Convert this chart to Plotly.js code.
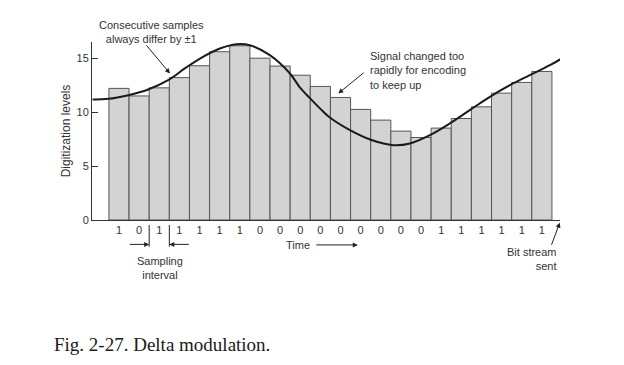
<!DOCTYPE html>
<html>
<head>
<meta charset="utf-8">
<script src="https://cdn.plot.ly/plotly-3.0.1.min.js"></script>
<style>html,body{margin:0;padding:0;background:#fff;}#chart{width:624px;height:365px;}</style>
</head>
<body>
<div id="chart"></div>
<script>
// Sample index (one bar per sampling interval)
var samples = [0,1,2,3,4,5,6,7,8,9,10,11,12,13,14,15,16,17,18,19,20,21];
// Bit stream sent
var bits = ["1","0","1","1","1","1","1","0","0","0","0","0","0","0","0","0","1","1","1","1","1","1"];
// Digitization levels of the encoded staircase
var levels = [12.2,11.5,12.25,13.2,14.3,15.6,16.15,15.0,14.27,13.42,12.38,11.36,10.25,9.26,8.24,7.65,8.52,9.41,10.49,11.76,12.75,13.77];
// Analog signal (traced)
var signalX = [-1.31,-0.53,0.46,1.45,2.44,3.27,4.02,5.01,5.84,6.5,7.49,8.49,8.98,9.48,9.98,10.47,11.47,12.54,13.62,14.45,15.44,16.43,17.42,18.42,19.41,20.4,21.4,21.98];
var signalY = [11.18,11.23,11.57,12.1,12.96,14.05,14.97,15.9,16.3,16.2,15.28,13.58,12.3,11.3,10.35,9.5,8.33,7.41,6.94,7.1,7.87,8.95,10.19,11.42,12.5,13.43,14.35,14.97];
var yTicks = [0,5,10,15];

var FONT = 'Liberation Sans, Arial, sans-serif';
var TXT = '#333333';

var traces = [
  {type:'bar', x:samples, y:levels, width:1,
   marker:{color:'#d3d3d3', line:{color:'#555555', width:1}}, hoverinfo:'skip'},
  {type:'scatter', mode:'lines', x:signalX, y:signalY,
   line:{color:'#1a1a1a', width:2, shape:'spline', smoothing:1}, hoverinfo:'skip'}
];

function arrow(x, y, ax, ay, xref, yref) {
  return {x:x, y:y, xref:xref||'x', yref:yref||'y', text:' ', font:{size:1},
    showarrow:true, arrowhead:2, arrowsize:1, arrowwidth:1, arrowcolor:'#222',
    ax:ax, ay:ay, standoff:0, startstandoff:0};
}
function label(x, y, text, xref, yref, xanchor, align) {
  return {x:x, y:y, xref:xref, yref:yref, xanchor:xanchor||'center', yanchor:'middle',
    text:text, showarrow:false, align:align||'center',
    font:{family:FONT, size:11, color:TXT}};
}

var annotations = [
  label(1.63, 1.057, 'Consecutive samples<br>always differ by \u00b11', 'x', 'paper'),
  arrow(2.53, 13.58, -25, -30),
  label(12.35, 13.89, 'Signal changed too<br>rapidly for encoding<br>to keep up', 'x', 'y', 'left', 'left'),
  arrow(10.89, 11.73, 27, -22),
  label(8.88, -0.14, 'Time', 'x', 'paper'),
  arrow(11.86, -0.14, -43, 0, 'x', 'paper'),
  label(2.05, -0.272, 'Sampling<br>interval', 'x', 'paper'),
  arrow(1.5, -0.137, -21, 0, 'x', 'paper'),
  arrow(2.5, -0.137, 21, 0, 'x', 'paper'),
  label(21.85, -0.22, 'Bit stream<br>sent', 'x', 'paper', 'right', 'right'),
  arrow(21.89, -0.015, -9, 24, 'x', 'paper'),
  {x:-0.0855, y:-0.70, xref:'paper', yref:'paper', xanchor:'left', yanchor:'middle',
   text:'Fig. 2-27. Delta modulation.', showarrow:false,
   font:{family:'Liberation Serif, Times New Roman, serif', size:19, color:'#1a1a1a'}}
];

var shapes = [
  {type:'line', xref:'x', yref:'paper', x0:1.5, x1:1.5, y0:-0.028, y1:-0.15, line:{color:'#222', width:1}},
  {type:'line', xref:'x', yref:'paper', x0:2.5, x1:2.5, y0:-0.028, y1:-0.15, line:{color:'#222', width:1}}
];

var layout = {
  width:624, height:365, autosize:false,
  margin:{l:92, r:64, t:42, b:145},
  paper_bgcolor:'#ffffff', plot_bgcolor:'#ffffff',
  showlegend:false, bargap:0,
  font:{family:FONT, size:11, color:TXT},
  xaxis:{range:[-1.34, 21.9], showgrid:false, zeroline:false, showline:true, linecolor:'#333', linewidth:1,
    tickmode:'array', tickvals:samples, ticktext:bits, ticks:'', tickfont:{size:11, color:TXT}},
  yaxis:{range:[0, 16.5], showgrid:false, zeroline:false, showline:true, linecolor:'#333', linewidth:1,
    tickmode:'array', tickvals:yTicks, ticks:'inside', ticklen:6, tickcolor:'#333',
    tickfont:{size:11, color:TXT},
    title:{text:'Digitization levels', font:{size:12, color:TXT}, standoff:3}},
  annotations:annotations, shapes:shapes
};

Plotly.newPlot('chart', traces, layout, {staticPlot:true, displayModeBar:false});
</script>
</body>
</html>
